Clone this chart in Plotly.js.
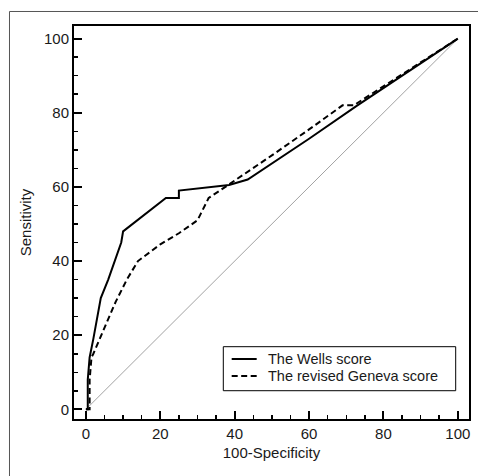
<!DOCTYPE html>
<html>
<head>
<meta charset="utf-8">
<script src="https://cdn.plot.ly/plotly-3.0.1.min.js"></script>
<style>
html,body{margin:0;padding:0;background:#fff;overflow:hidden;width:478px;height:476px;}
#plot{position:absolute;left:0;top:0;width:478px;height:476px;}
</style>
</head>
<body>
<div id="plot"></div>
<script>
var wellsX = [0, 0.5, 0.5, 1, 2, 4, 6, 9.5, 10, 21.5, 25, 25, 38.5, 43.5, 60, 73, 100];
var wellsY = [0, 0, 8, 14, 19, 30, 35, 45, 48, 57, 57, 59, 60.5, 62, 73, 82, 100];
var genevaX = [0, 1, 1, 1.5, 2, 5, 8, 11, 14, 16, 20, 25, 30, 31, 33, 36, 39, 50, 60, 69, 72, 100];
var genevaY = [0, 0, 8, 14, 15, 22, 29, 35, 40, 41.5, 44.5, 47.5, 51, 53, 57, 59, 61, 68.5, 75.5, 82, 82, 100];
var diagX = [0, 100];
var diagY = [0, 100];
var names = ["The Wells score", "The revised Geneva score"];
var tickVals = [0, 20, 40, 60, 80, 100];

var fam = "Arial, 'Liberation Sans', sans-serif";
var tickFont = {family: fam, size: 15, color: "#1a1a1a"};
var titleFont = {family: fam, size: 15, color: "#1a1a1a"};
var legFont = {family: fam, size: 14.5, color: "#1a1a1a"};

var traces = [
  {x: diagX, y: diagY, mode: "lines", line: {color: "#8a8a8a", width: 0.8}, showlegend: false, hoverinfo: "skip"},
  {x: wellsX, y: wellsY, mode: "lines", name: names[0], line: {color: "#000", width: 2}},
  {x: genevaX, y: genevaY, mode: "lines", name: names[1], line: {color: "#000", width: 2, dash: "6px,3.5px"}}
];

var axisCommon = {
  tickvals: tickVals,
  ticks: "inside",
  ticklen: 8,
  tickwidth: 2,
  tickcolor: "#000",
  showline: true,
  linecolor: "#000",
  linewidth: 2,
  mirror: true,
  showgrid: false,
  zeroline: false,
  tickfont: tickFont,
  minor: {dtick: 5, ticks: "inside", ticklen: 4, tickwidth: 1.5, tickcolor: "#000", showgrid: false}
};

// legend box and outer frame drawn in paper coordinates
var box = {x0: 0.378, x1: 0.9663, y0: 0.072, y1: 0.184};
var sampleX0 = 0.3992, sampleX1 = 0.4625, textX = 0.485;
var rowY = [0.1527, 0.1094];

var shapes = [
  {type: "line", xref: "paper", yref: "paper", x0: -0.1633, x1: 1.03, y0: 1.0369, y1: 1.0369, line: {color: "#555", width: 1}, layer: "above"},
  {type: "line", xref: "paper", yref: "paper", x0: -0.1633, x1: -0.1633, y0: 1.0369, y1: -0.16, line: {color: "#555", width: 1}, layer: "above"},
  {type: "rect", xref: "paper", yref: "paper", x0: box.x0, x1: box.x1, y0: box.y0, y1: box.y1,
   line: {color: "#000", width: 1}, fillcolor: "#fff", layer: "above"}
];
var annotations = [];
for (var i = 0; i < names.length; i++) {
  shapes.push({type: "line", xref: "paper", yref: "paper", x0: sampleX0, x1: sampleX1, y0: rowY[i], y1: rowY[i],
    line: {color: "#000", width: 2, dash: i === 0 ? "solid" : "6px,3.5px"}, layer: "above"});
  annotations.push({xref: "paper", yref: "paper", x: textX, y: rowY[i], xanchor: "left", yanchor: "middle",
    text: names[i], showarrow: false, font: legFont});
}

var layout = {
  width: 478, height: 476,
  margin: {l: 74, r: 9, t: 26, b: 57},
  paper_bgcolor: "#fff",
  plot_bgcolor: "#fff",
  font: tickFont,
  showlegend: false,
  xaxis: Object.assign({}, axisCommon, {range: [-3.2, 103], title: {text: "100-Specificity", font: titleFont, standoff: 6}}),
  yaxis: Object.assign({}, axisCommon, {range: [-2.6, 103.4], title: {text: "Sensitivity", font: titleFont, standoff: 9}}),
  shapes: shapes,
  annotations: annotations
};

Plotly.newPlot("plot", traces, layout, {displayModeBar: false, staticPlot: true});
</script>
</body>
</html>
